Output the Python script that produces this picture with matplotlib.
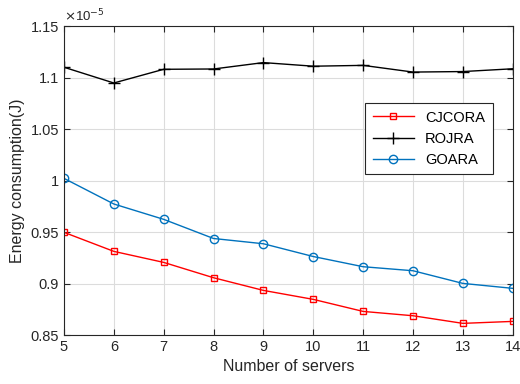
import numpy as np
import matplotlib
matplotlib.use("Agg")
import matplotlib.pyplot as plt
from matplotlib.ticker import FuncFormatter

plt.rcParams['font.family'] = ['Liberation Sans', 'DejaVu Sans']

# data (energy in units of 1e-5 J)
servers = [5, 6, 7, 8, 9, 10, 11, 12, 13, 14]
cjcora = [0.9497, 0.9312, 0.9205, 0.9056, 0.8933, 0.8846, 0.8729, 0.8687, 0.8613, 0.8632]
rojra = [1.1100, 1.0947, 1.1080, 1.1083, 1.1145, 1.1110, 1.1118, 1.1053, 1.1058, 1.1085]
goara = [1.0021, 0.9772, 0.9623, 0.9437, 0.9386, 0.9262, 0.9163, 0.9124, 0.9001, 0.8953]
yticks = [0.85, 0.9, 0.95, 1.0, 1.05, 1.1, 1.15]

fig = plt.figure(figsize=(5.2, 3.84), dpi=100)
ax = fig.add_axes([0.123, 0.1276, 0.863, 0.8046])

ax.plot(servers, cjcora, color='#ff0000', marker='s', ms=5, mfc='none', lw=1, label='CJCORA')
ax.plot(servers, rojra, color='black', marker='+', ms=8, lw=1, label='ROJRA')
ax.plot(servers, goara, color='#0072bd', marker='o', ms=6, mfc='none', lw=1, label='GOARA')

ax.set_xlim(5, 14)
ax.set_ylim(0.85, 1.15)
ax.set_xticks(servers)
ax.set_yticks(yticks)
ax.yaxis.set_major_formatter(FuncFormatter(lambda v, p: ('%g' % round(v, 2))))
ax.grid(True, color='#dcdcdc', lw=0.8)
ax.set_axisbelow(True)
ax.tick_params(direction='in', top=True, right=True, labelsize=10.5, colors='#262626', length=4)
for s in ax.spines.values():
    s.set_color('#262626')
    s.set_linewidth(0.8)

ax.set_xlabel('Number of servers', fontsize=11.5, color='#262626')
ax.set_ylabel('Energy consumption(J)', fontsize=11.5, color='#262626')
ax.text(0.0, 1.005, r'$\times$10$^{-5}$', transform=ax.transAxes, fontsize=9.5,
        color='#262626', ha='left', va='bottom')

leg = ax.legend(loc='upper right', bbox_to_anchor=(0.955, 0.75), borderaxespad=0,
                fontsize=10.5, fancybox=False, framealpha=1, edgecolor='#262626',
                handlelength=2.8, borderpad=0.5, labelspacing=0.5)
leg.get_frame().set_linewidth(0.8)

fig.savefig('out.png', dpi=100)
